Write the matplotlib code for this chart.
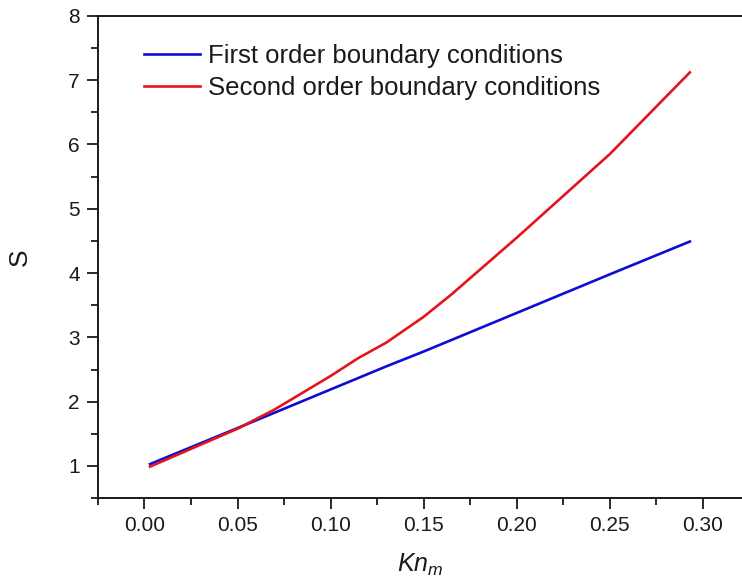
import matplotlib.pyplot as plt
from matplotlib.ticker import MultipleLocator

plt.rcParams["font.family"] = ["Liberation Sans", "DejaVu Sans"]
plt.rcParams["mathtext.fontset"] = "custom"
plt.rcParams["mathtext.it"] = "Liberation Sans:italic"
plt.rcParams["mathtext.rm"] = "Liberation Sans"

# Knudsen number samples and the two S curves
kn = [0.003, 0.05, 0.07, 0.10, 0.115, 0.13, 0.15, 0.165, 0.20, 0.25, 0.293]
s_first = [1.03, 1.59, 1.83, 2.19, 2.37, 2.55, 2.78, 2.96, 3.38, 3.98, 4.49]
s_second = [0.99, 1.58, 1.88, 2.40, 2.68, 2.92, 3.32, 3.67, 4.55, 5.85, 7.12]

labels = ["First order boundary conditions", "Second order boundary conditions"]
text_color = "#1a1a1a"

fig = plt.figure(figsize=(7.42, 5.84), dpi=100)
ax = fig.add_axes([0.132, 0.147, 0.868, 0.826])

ax.plot(kn, s_first, color="#0c0cd4", lw=1.9, label=labels[0])
ax.plot(kn, s_second, color="#e3151b", lw=1.9, label=labels[1])

ax.set_xlim(-0.025, 0.321)
ax.set_ylim(0.5, 8)
ax.xaxis.set_major_locator(MultipleLocator(0.05))
ax.xaxis.set_minor_locator(MultipleLocator(0.025))
ax.yaxis.set_major_locator(MultipleLocator(1))
ax.yaxis.set_minor_locator(MultipleLocator(0.5))
ax.xaxis.set_major_formatter(plt.FuncFormatter(lambda v, p: f"{v:.2f}"))

for side in ["left", "bottom", "top"]:
    ax.spines[side].set_linewidth(1.4)
    ax.spines[side].set_color(text_color)
ax.spines["right"].set_visible(False)

ax.tick_params(which="major", direction="out", length=8, width=1.3,
               labelsize=15, colors=text_color, pad=5)
ax.tick_params(which="minor", direction="out", length=5, width=1.3,
               colors=text_color)
ax.tick_params(top=False, right=False, which="both")

ax.set_xlabel(r"$Kn_m$", fontsize=18, color=text_color, labelpad=12)
ax.set_ylabel("S", fontsize=19, color=text_color, labelpad=26)

leg = ax.legend(loc="upper left", bbox_to_anchor=(0.055, 0.963), frameon=False,
                fontsize=18.5, handlelength=2.2, handletextpad=0.31,
                labelspacing=0.33, borderaxespad=0)
for t in leg.get_texts():
    t.set_color(text_color)

fig.savefig("out.png", dpi=100)
